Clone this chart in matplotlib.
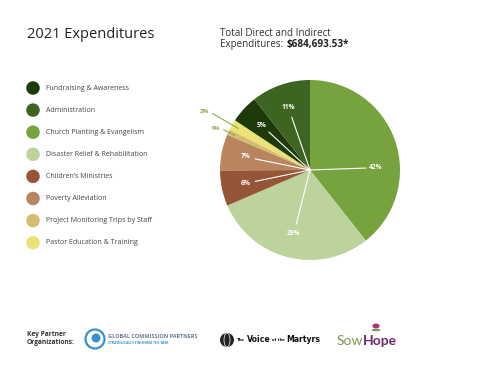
import matplotlib
matplotlib.use("Agg")
import matplotlib.pyplot as plt
import numpy as np
from matplotlib.patches import Ellipse
from matplotlib import font_manager

# ---------------- data ----------------
categories = ["Fundraising & Awareness", "Administration", "Church Planting & Evangelism",
              "Disaster Relief & Rehabilitation", "Children’s Ministries", "Poverty Alleviation",
              "Project Monitoring Trips by Staff", "Pastor Education & Training"]
shares = [5.1, 10.6, 39.4, 29.2, 6.4, 6.5, 1.0, 1.9]
pct_labels = ["5%", "11%", "42%", "29%", "6%", "7%", "1%", "2%"]
colors = ["#1e3a0a", "#3d6420", "#76a33d", "#bdd39c", "#955537", "#b8855f", "#d4bd6e", "#ece277"]
slice_order = [2, 3, 4, 5, 6, 7, 0, 1]   # clockwise from 12 o'clock
outside = {6: 1.06, 7: 1.25}             # small slices labelled outside: leader end radius

title = "2021 Expenditures"
total_line1 = "Total Direct and Indirect"
total_line2a = "Expenditures:"
total_line2b = "$684,693.53*"

FONT = ["Open Sans", "DejaVu Sans"]
plt.rcParams['font.family'] = FONT

W, H = 480, 373
fig = plt.figure(figsize=(W / 100, H / 100), dpi=100)
fig.patch.set_facecolor("white")

def fx(px):
    return px / W

def fy(py):
    return 1 - py / H

def right_of(txt, gap=0.0):
    fig.canvas.draw()
    bb = txt.get_window_extent(renderer=fig.canvas.get_renderer())
    return (bb.x1 + gap) / fig.bbox.width

# ---------------- pie ----------------
cx, cy, R = 310, 170, 90
half = 120
ax = fig.add_axes([fx(cx - half), fy(cy + half), 2 * half / W, 2 * half / H])
ax.axis("off")

vals = [shares[i] for i in slice_order]
cols = [colors[i] for i in slice_order]
wedges, _ = ax.pie(vals, colors=cols, startangle=90, counterclock=False, radius=1,
                   wedgeprops=dict(linewidth=0), center=(0, 0))
ax.set_xlim(-half / R, half / R)
ax.set_ylim(-half / R, half / R)
ax.set_aspect("equal")

for w, idx in zip(wedges, slice_order):
    mid = np.deg2rad((w.theta1 + w.theta2) / 2)
    lab = pct_labels[idx]
    if idx in outside:
        r_out = outside[idx]
        d = np.array([np.cos(mid), np.sin(mid)])
        ax.plot([0.92 * d[0], r_out * d[0]], [0.92 * d[1], r_out * d[1]],
                color="#8aae4f", lw=0.8, solid_capstyle="round")
        ax.text(r_out * d[0] - 0.04, r_out * d[1] + 0.02, lab, ha="right", va="center",
                fontsize=4.6, fontweight="bold", color="#8aae4f")
    else:
        if idx == 2:
            mid = np.deg2rad(2)
        d = np.array([np.cos(mid), np.sin(mid)])
        ax.plot([0, 0.62 * d[0]], [0, 0.62 * d[1]], color="white", lw=0.8)
        ax.text(0.73 * d[0], 0.73 * d[1], lab, ha="center", va="center",
                fontsize=4.8, fontweight="bold", color="white")

# ---------------- titles ----------------
fig.text(fx(27), fy(35), title, fontsize=10.5, color="#222222", ha="left", va="center")
fig.text(fx(220), fy(33), total_line1, fontsize=7.1, color="#333333", ha="left", va="center")
t2 = fig.text(fx(220), fy(45), total_line2a, fontsize=7.1, color="#333333", ha="left", va="center")
fig.text(right_of(t2, 3), fy(45), total_line2b, fontsize=7.1, color="#222222",
         fontweight="bold", ha="left", va="center")

# ---------------- legend ----------------
leg_y0, leg_dy = 88, 22.1
for k, (name, col) in enumerate(zip(categories, colors)):
    y = leg_y0 + k * leg_dy
    fig.patches.append(Ellipse((fx(33), fy(y)), 13.5 / W, 13.5 / H, transform=fig.transFigure,
                               facecolor=col, edgecolor="none"))
    fig.text(fx(46), fy(y), name, fontsize=5.0, color="#444444", ha="left", va="center")

# ---------------- partners ----------------
fig.text(fx(27), fy(335), "Key Partner", fontsize=4.8, color="#333333", fontweight="bold",
         ha="left", va="center")
fig.text(fx(27), fy(343), "Organizations:", fontsize=4.8, color="#333333", fontweight="bold",
         ha="left", va="center")

# Global Commission Partners
fig.patches.append(Ellipse((fx(95), fy(339)), 19 / W, 19 / H, transform=fig.transFigure,
                           facecolor="none", edgecolor="#3a8fd0", lw=1.6))
fig.patches.append(Ellipse((fx(96), fy(338)), 9 / W, 9 / H, transform=fig.transFigure,
                           facecolor="#3a8fd0", edgecolor="none"))
fig.text(fx(108), fy(337), "GLOBAL COMMISSION PARTNERS", fontsize=4.0, color="#6b7a8a",
         ha="left", va="center", fontweight="bold")
fig.text(fx(108), fy(343.5), "STRATEGICALLY FINISHING THE TASK", fontsize=2.4, color="#3a8fd0",
         ha="left", va="center", fontweight="bold")

# Voice of the Martyrs
fig.patches.append(Ellipse((fx(227), fy(340)), 14 / W, 14 / H, transform=fig.transFigure,
                           facecolor="#222222", edgecolor="none"))
fig.patches.append(Ellipse((fx(227), fy(340)), 6 / W, 14 / H, transform=fig.transFigure,
                           facecolor="none", edgecolor="white", lw=0.5))
try:
    font_manager.findfont(font_manager.FontProperties(family="Liberation Sans Narrow"),
                          fallback_to_default=False)
    vom_family, big, small = ["Liberation Sans Narrow"], 7.6, 3.6
except Exception:
    vom_family, big, small = ["DejaVu Sans"], 5.6, 2.8
xpos = fx(237)
for piece, size in [("The", small), ("Voice", big), ("of the", small), ("Martyrs", big)]:
    t = fig.text(xpos, fy(340), piece, fontsize=size, color="#111111", ha="left",
                 va="center", fontweight="bold", family=vom_family)
    xpos = right_of(t, 1.5)

# SowHope
s1 = fig.text(fx(337), fy(341), "Sow", fontsize=10, color="#7a9a4a", ha="left", va="center",
              family=["Lato", "DejaVu Sans"])
fig.text(right_of(s1), fy(341), "Hope", fontsize=10, color="#6e2b6b", ha="left",
         va="center", fontweight="bold", family=["Lato", "DejaVu Sans"])
fig.patches.append(Ellipse((fx(376), fy(326)), 7 / W, 5 / H, transform=fig.transFigure,
                           facecolor="#b0307e", edgecolor="none"))
fig.patches.append(Ellipse((fx(376), fy(330)), 9 / W, 2.5 / H, transform=fig.transFigure,
                           facecolor="#7a9a4a", edgecolor="none"))

fig.savefig("out.png", dpi=100, facecolor="white")
